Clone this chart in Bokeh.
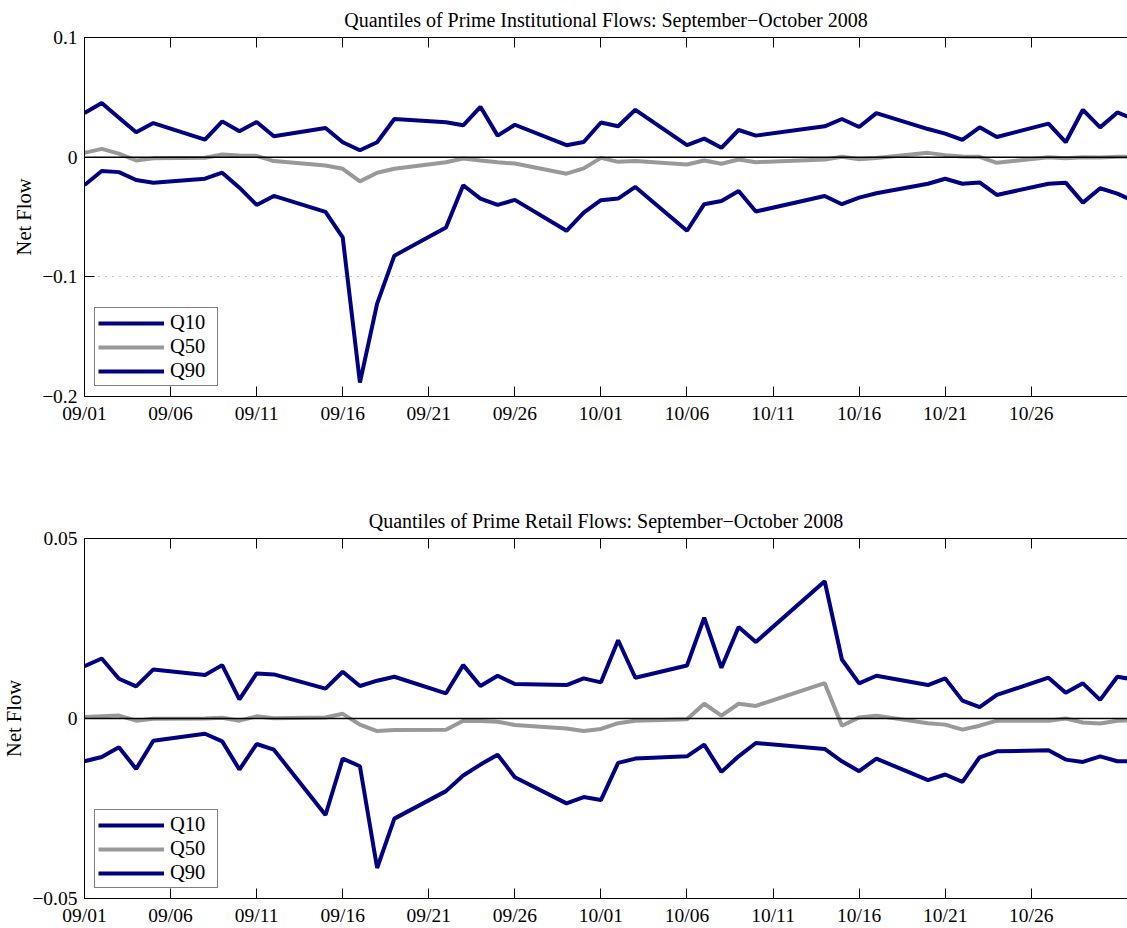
import pandas as pd
from bokeh.plotting import figure
from bokeh.models import (ColumnDataSource, Range1d, FixedTicker, DatetimeTickFormatter,
                          DatetimeAxis, Span, Legend, LegendItem, CustomJSTickFormatter)
from bokeh.layouts import column
from bokeh.embed import file_html
from bokeh.resources import INLINE

# ---------------- data ----------------
dates = [
    "2008-09-01", "2008-09-02", "2008-09-03", "2008-09-04", "2008-09-05",
    "2008-09-08", "2008-09-09", "2008-09-10", "2008-09-11", "2008-09-12",
    "2008-09-15", "2008-09-16", "2008-09-17", "2008-09-18", "2008-09-19",
    "2008-09-22", "2008-09-23", "2008-09-24", "2008-09-25", "2008-09-26",
    "2008-09-29", "2008-09-30", "2008-10-01", "2008-10-02", "2008-10-03",
    "2008-10-06", "2008-10-07", "2008-10-08", "2008-10-09", "2008-10-10",
    "2008-10-14", "2008-10-15", "2008-10-16", "2008-10-17",
    "2008-10-20", "2008-10-21", "2008-10-22", "2008-10-23", "2008-10-24",
    "2008-10-27", "2008-10-28", "2008-10-29", "2008-10-30", "2008-10-31",
    "2008-11-03",
]

inst_q10 = [
    -0.0233, -0.0116, -0.0125, -0.0191, -0.0213,
    -0.0180, -0.0130, -0.0255, -0.0399, -0.0324,
    -0.0457, -0.0670, -0.1884, -0.1224, -0.0823,
    -0.0587, -0.0235, -0.0346, -0.0399, -0.0357,
    -0.0615, -0.0463, -0.0360, -0.0346, -0.0249,
    -0.0615, -0.0393, -0.0366, -0.0283, -0.0454,
    -0.0324, -0.0393, -0.0338, -0.0302,
    -0.0222, -0.0180, -0.0222, -0.0211, -0.0316,
    -0.0222, -0.0213, -0.0380, -0.0260, -0.0305,
    -0.0500,
]
inst_q50 = [
    0.0036, 0.0069, 0.0030, -0.0028, -0.0010,
    -0.0005, 0.0022, 0.0014, 0.0011, -0.0033,
    -0.0069, -0.0097, -0.0202, -0.0130, -0.0097,
    -0.0042, -0.0011, -0.0028, -0.0042, -0.0053,
    -0.0138, -0.0094, -0.0006, -0.0039, -0.0033,
    -0.0061, -0.0028, -0.0055, -0.0019, -0.0042,
    -0.0019, 0.0003, -0.0017, -0.0006,
    0.0036, 0.0017, 0.0006, 0.0003, -0.0047,
    0.0000, -0.0010, 0.0000, -0.0003, 0.0003,
    0.0000,
]
inst_q90 = [
    0.0368, 0.0452, 0.0330, 0.0208, 0.0285,
    0.0147, 0.0299, 0.0216, 0.0294, 0.0175,
    0.0244, 0.0125, 0.0058, 0.0125, 0.0319,
    0.0291, 0.0266, 0.0421, 0.0180, 0.0271,
    0.0100, 0.0127, 0.0290, 0.0258, 0.0396,
    0.0100, 0.0155, 0.0078, 0.0227, 0.0180,
    0.0258, 0.0319, 0.0252, 0.0368,
    0.0235, 0.0197, 0.0144, 0.0249, 0.0169,
    0.0280, 0.0125, 0.0396, 0.0249, 0.0374,
    0.0200,
]

retail_q10 = [
    -0.01188, -0.01068, -0.00801, -0.01400, -0.00617,
    -0.00424, -0.00635, -0.01418, -0.00709, -0.00866,
    -0.02680, -0.01114, -0.01326, -0.04153, -0.02781,
    -0.02017, -0.01584, -0.01280, -0.01004, -0.01630,
    -0.02357, -0.02182, -0.02265, -0.01234, -0.01114,
    -0.01050, -0.00727, -0.01483, -0.01050, -0.00681,
    -0.00847, -0.01188, -0.01464, -0.01114,
    -0.01713, -0.01556, -0.01759, -0.01077, -0.00912,
    -0.00884, -0.01142, -0.01206, -0.01050, -0.01188,
    -0.01190,
]
retail_q50 = [
    0.0004, 0.0006, 0.0008, -0.0006, -0.0001,
    0.0000, 0.0002, -0.0006, 0.0006, 0.0001,
    0.0003, 0.0013, -0.0017, -0.0035, -0.0032,
    -0.0031, -0.0006, -0.0007, -0.0009, -0.0018,
    -0.0028, -0.0035, -0.0029, -0.0013, -0.0006,
    -0.0002, 0.0041, 0.0008, 0.0041, 0.0035,
    0.0098, -0.0020, 0.0003, 0.0008,
    -0.0013, -0.0017, -0.0031, -0.0020, -0.0006,
    -0.0006, 0.0000, -0.0011, -0.0014, -0.0006,
    -0.0004,
]
retail_q90 = [
    0.01455, 0.01667, 0.01105, 0.00893, 0.01363,
    0.01206, 0.01483, 0.00534, 0.01252, 0.01225,
    0.00829, 0.01298, 0.00902, 0.01050, 0.01160,
    0.00700, 0.01483, 0.00902, 0.01188, 0.00958,
    0.00930, 0.01114, 0.01004, 0.02173, 0.01133,
    0.01473, 0.02799, 0.01409, 0.02541, 0.02127,
    0.03812, 0.01639, 0.00976, 0.01188,
    0.00930, 0.01114, 0.00497, 0.00313, 0.00654,
    0.01133, 0.00718, 0.00976, 0.00516, 0.01160,
    0.00920,
]

tick_dates = ["2008-09-01", "2008-09-06", "2008-09-11", "2008-09-16", "2008-09-21",
              "2008-09-26", "2008-10-01", "2008-10-06", "2008-10-11", "2008-10-16",
              "2008-10-21", "2008-10-26"]

inst_yticks = [-0.2, -0.1, 0.0, 0.1]
inst_ylabels = ["\u22120.2", "\u22120.1", "0", "0.1"]
retail_yticks = [-0.05, 0.0, 0.05]
retail_ylabels = ["\u22120.05", "0", "0.05"]

series_names = ["Q10", "Q50", "Q90"]

titles = ["Quantiles of Prime Institutional Flows: September\u2212October 2008",
          "Quantiles of Prime Retail Flows: September\u2212October 2008"]

# ---------------- style ----------------
FONT = "Liberation Serif"
FS_TICK = "19.5px"
FS_TITLE = "20px"
FS_LABEL = "20.5px"
NAVY = "#000080"
GRAY = "#999999"

tick_ms = [pd.Timestamp(d).value // 10**6 for d in tick_dates]
x_start = pd.Timestamp("2008-09-01")
x_end = x_start + pd.Timedelta(days=60.59)


def style_axis(ax):
    ax.axis_line_color = "black"
    ax.axis_line_width = 1
    ax.major_tick_line_color = "black"
    ax.major_tick_line_width = 1
    ax.major_tick_in = 10
    ax.major_tick_out = 0
    ax.minor_tick_line_color = None
    ax.major_label_text_font = FONT
    ax.major_label_text_font_size = FS_TICK
    ax.major_label_text_color = "black"


def make_panel(title, q10, q50, q90, y0, y1, yticks, ylabels, height, b_bottom):
    src = ColumnDataSource(dict(x=pd.to_datetime(dates), q10=q10, q50=q50, q90=q90))
    p = figure(width=1127, height=height, output_backend="svg", toolbar_location=None,
               x_axis_type="datetime", x_range=Range1d(x_start, x_end),
               y_range=Range1d(y0, y1),
               min_border_left=83, min_border_right=0, min_border_top=36,
               min_border_bottom=b_bottom)
    p.outline_line_color = None
    p.background_fill_color = "white"
    p.border_fill_color = "white"
    p.xgrid.grid_line_color = None
    p.ygrid.grid_line_color = "#888888"
    p.ygrid.grid_line_dash = "1 6"
    p.ygrid.grid_line_width = 1

    p.title.text = title
    p.title.text_font = FONT
    p.title.text_font_size = FS_TITLE
    p.title.text_font_style = "normal"
    p.title.text_color = "black"
    p.title.align = "center"
    p.title.standoff = 13

    xa = p.xaxis[0]
    xa.ticker = FixedTicker(ticks=tick_ms)
    xa.formatter = DatetimeTickFormatter(days="%m/%d", months="%m/%d", years="%m/%d",
                                         hours="%m/%d", minutes="%m/%d")
    style_axis(xa)
    xa.major_label_standoff = 6

    ya = p.yaxis[0]
    ya.ticker = FixedTicker(ticks=yticks)
    ya.formatter = CustomJSTickFormatter(
        args=dict(vals=yticks, labs=ylabels),
        code="for (let i = 0; i < vals.length; i++) { if (Math.abs(vals[i] - tick) < 1e-9) return labs[i]; } return '';")
    style_axis(ya)
    ya.major_label_standoff = 7
    ya.axis_label = "Net Flow"
    ya.axis_label_text_font = FONT
    ya.axis_label_text_font_size = FS_LABEL
    ya.axis_label_text_font_style = "normal"
    ya.axis_label_text_color = "black"
    ya.axis_label_standoff = 4

    # top spine with inward ticks (MATLAB box), labels not drawn
    top = DatetimeAxis(ticker=FixedTicker(ticks=tick_ms))
    style_axis(top)
    top.major_label_text_font_size = "1px"
    top.major_label_text_color = None
    top.major_label_standoff = 0
    p.add_layout(top, "above")

    r10 = p.line("x", "q10", source=src, line_color=NAVY, line_width=4)
    r50 = p.line("x", "q50", source=src, line_color=GRAY, line_width=4)
    r90 = p.line("x", "q90", source=src, line_color=NAVY, line_width=4)

    p.add_layout(Span(location=0, dimension="width", line_color="black", line_width=1.5))

    legend = Legend(items=[LegendItem(label=series_names[0], renderers=[r10]),
                           LegendItem(label=series_names[1], renderers=[r50]),
                           LegendItem(label=series_names[2], renderers=[r90])],
                    location="bottom_left", margin=10, padding=3,
                    glyph_width=66, glyph_height=20, label_height=20, label_width=44,
                    label_standoff=6, spacing=1,
                    label_text_font=FONT, label_text_font_size=FS_LABEL,
                    label_text_color="black",
                    border_line_color="black", border_line_width=1,
                    background_fill_color="white", background_fill_alpha=1)
    p.add_layout(legend)
    return p


p1 = make_panel(titles[0], inst_q10, inst_q50, inst_q90, -0.2, 0.1,
                inst_yticks, inst_ylabels, 501, 105)
p2 = make_panel(titles[1], retail_q10, retail_q50, retail_q90, -0.05, 0.05,
                retail_yticks, retail_ylabels, 427, 29)

layout = column(p1, p2, spacing=0)
open("out.html", "w").write(file_html(layout, INLINE))
